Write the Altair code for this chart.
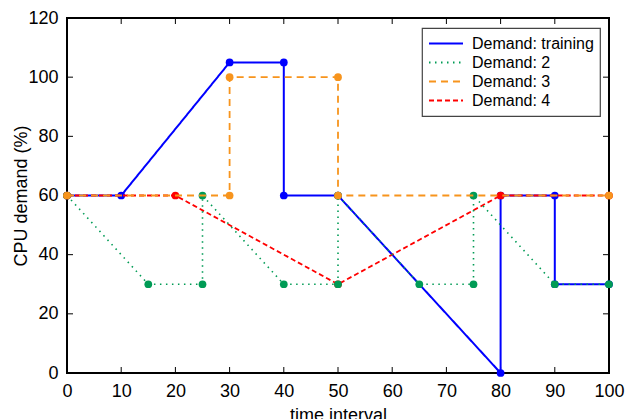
import altair as alt
import pandas as pd

series_names = ["Demand: training", "Demand: 2", "Demand: 3", "Demand: 4"]
train_x = [0, 10, 30, 40, 40, 50, 80, 80, 90, 90, 100]
train_y = [60, 60, 105, 105, 60, 60, 0, 60, 60, 30, 30]
d2_x = [0, 15, 25, 25, 40, 50, 50, 65, 75, 75, 90, 100]
d2_y = [60, 30, 30, 60, 30, 30, 60, 30, 30, 60, 30, 30]
d3_x = [0, 30, 30, 50, 50, 100]
d3_y = [60, 60, 100, 100, 60, 60]
d4_x = [0, 20, 50, 80, 100]
d4_y = [60, 60, 30, 60, 60]
x_ticks = list(range(0, 101, 10))
y_ticks = list(range(0, 121, 20))

colors = ["#0000ff", "#009b55", "#f7941d", "#ff0000"]
dashes = [[1, 0], [1.5, 4.5], [7, 5], [5, 3]]
widths = [2, 1.6, 1.8, 1.8]

W, H = 542, 355
FONT = "Liberation Sans"

color_scale = alt.Scale(domain=series_names, range=colors)
dash_scale = alt.Scale(domain=series_names, range=dashes)

xs = alt.Scale(domain=[0, 100], nice=False)
ys = alt.Scale(domain=[0, 120], nice=False)

x_axis = alt.Axis(values=x_ticks, tickSize=0, labelPadding=9, title="time interval",
                  titlePadding=6, grid=False, domain=False, labelFlush=False)
y_axis = alt.Axis(values=y_ticks, tickSize=0, labelPadding=9, title="CPU demand (%)",
                  titlePadding=-3, grid=False, domain=False, labelFlush=False)


def series_layers(name, xv, yv, width):
    df = pd.DataFrame({"x": xv, "y": yv, "i": list(range(len(xv))), "series": name})
    base = alt.Chart(df)
    line = base.mark_line(strokeWidth=width).encode(
        x=alt.X("x:Q", scale=xs, axis=x_axis),
        y=alt.Y("y:Q", scale=ys, axis=y_axis),
        order="i:Q",
        color=alt.Color("series:N", scale=color_scale,
                        legend=alt.Legend(title=None)),
        strokeDash=alt.StrokeDash("series:N", scale=dash_scale,
                                  legend=alt.Legend(title=None)),
    )
    pts = base.mark_circle(size=60, opacity=1).encode(
        x=alt.X("x:Q", scale=xs),
        y=alt.Y("y:Q", scale=ys),
        color=alt.Color("series:N", scale=color_scale, legend=None),
    )
    return [line, pts]


layers = []
layers += series_layers(series_names[0], train_x, train_y, widths[0])
layers += series_layers(series_names[3], d4_x, d4_y, widths[3])
layers += series_layers(series_names[1], d2_x, d2_y, widths[1])
layers += series_layers(series_names[2], d3_x, d3_y, widths[2])

xt = pd.DataFrame({"v": x_ticks})
yt = pd.DataFrame({"v": y_ticks})
tick_x_bot = alt.Chart(xt).mark_rule(color="black", strokeWidth=1).encode(
    x=alt.X("v:Q", scale=xs), y=alt.value(H), y2=alt.value(H - 6))
tick_x_top = alt.Chart(xt).mark_rule(color="black", strokeWidth=1).encode(
    x=alt.X("v:Q", scale=xs), y=alt.value(0), y2=alt.value(6))
tick_y_left = alt.Chart(yt).mark_rule(color="black", strokeWidth=1).encode(
    y=alt.Y("v:Q", scale=ys), x=alt.value(0), x2=alt.value(6))
tick_y_right = alt.Chart(yt).mark_rule(color="black", strokeWidth=1).encode(
    y=alt.Y("v:Q", scale=ys), x=alt.value(W - 6), x2=alt.value(W))

chart = alt.layer(tick_x_bot, tick_x_top, tick_y_left, tick_y_right, *layers).properties(
    width=W, height=H,
    autosize=alt.AutoSizeParams(type="none"),
    padding={"left": 67, "top": 18, "right": 25, "bottom": 46},
).configure_view(
    stroke="black", strokeWidth=2
).configure_axis(
    labelFont=FONT, titleFont=FONT, labelFontSize=18, titleFontSize=18,
    labelColor="black", titleColor="black", titleFontWeight="normal",
).configure_legend(
    orient="none", legendX=355, legendY=10,
    strokeColor="#444444", strokeWidth=1.2, fillColor="white",
    padding=6, symbolType="stroke", symbolSize=1156, symbolStrokeWidth=2,
    labelFont=FONT, labelFontSize=16, labelColor="black", labelOffset=8,
    rowPadding=0, clipHeight=19, cornerRadius=0,
)

chart.save("out.html", embed_options={"renderer": "svg", "actions": False})
